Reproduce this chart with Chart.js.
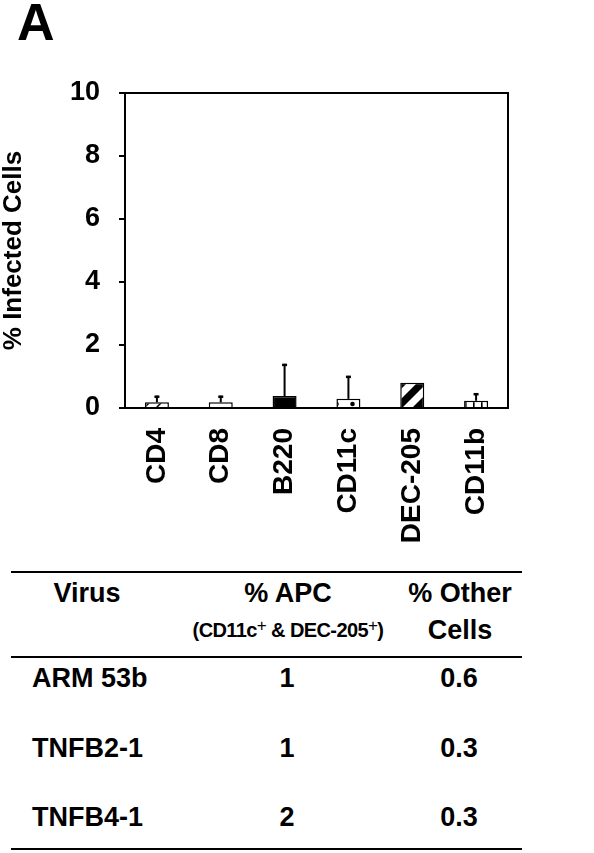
<!DOCTYPE html>
<html>
<head>
<meta charset="utf-8">
<script src="https://cdn.jsdelivr.net/npm/chart.js@4/dist/chart.umd.min.js"></script>
<style>
  html, body { margin: 0; padding: 0; background: #fff; }
  body { width: 594px; height: 853px; position: relative; overflow: hidden;
         font-family: "Liberation Sans", Arial, sans-serif; color: #000; }
  #chart { position: absolute; left: 0; top: 0; }
  .t { position: absolute; font-weight: bold; font-size: 27px; line-height: 27px; white-space: nowrap; }
  .c { transform: translateX(-50%); }
  .rule { position: absolute; left: 11px; width: 511px; height: 2px; background: #000; }
  .panel { position: absolute; left: 17px; top: 0; font-size: 52px; line-height: 44px; font-weight: bold; }
  .sub { font-size: 20px; line-height: 20px; letter-spacing: -0.6px; }
  .sub sup { font-size: 17px; line-height: 0; vertical-align: 6px; font-weight: normal; }
</style>
</head>
<body>
<div class="panel">A</div>
<canvas id="chart" width="594" height="550"></canvas>

<div class="rule" style="top:571px"></div>
<div class="t c" style="left:87px; top:580px">Virus</div>
<div class="t c" style="left:288px; top:580px">% APC</div>
<div class="t c sub" style="left:288px; top:620px">(CD11c<sup>+</sup> &amp; DEC-205<sup>+</sup>)</div>
<div class="t c" style="left:460px; top:580px">% Other</div>
<div class="t c" style="left:460px; top:617px">Cells</div>
<div class="rule" style="top:656px"></div>
<div id="rows"></div>
<div class="rule" style="top:848px"></div>

<script>
// bar chart values (% infected cells)
const markers = ['CD4', 'CD8', 'B220', 'CD11c', 'DEC-205', 'CD11b'];
const infected = [0.18, 0.18, 0.38, 0.29, 0.8, 0.23];
const infectedErr = [0.21, 0.21, 1.02, 0.73, 0, 0.24];
const yTicks = [0, 2, 4, 6, 8, 10];

// table below the chart
const viruses = ['ARM 53b', 'TNFB2-1', 'TNFB4-1'];
const apcPct = ['1', '1', '2'];
const otherPct = ['0.6', '0.3', '0.3'];

const rowY = [678, 748, 817];
const rows = document.getElementById('rows');
viruses.forEach((v, i) => {
    const top = rowY[i] - 13;
    rows.insertAdjacentHTML('beforeend',
        `<div class="t" style="left:32px; top:${top}px">${v}</div>` +
        `<div class="t c" style="left:287px; top:${top}px">${apcPct[i]}</div>` +
        `<div class="t c" style="left:459px; top:${top}px">${otherPct[i]}</div>`);
});

// fill patterns for the bars
const patCtx = document.createElement('canvas').getContext('2d');
function makePattern(w, h, draw) {
    const c = document.createElement('canvas');
    c.width = w; c.height = h;
    const g = c.getContext('2d');
    g.fillStyle = '#fff';
    g.fillRect(0, 0, w, h);
    g.strokeStyle = '#000';
    g.fillStyle = '#000';
    draw(g, w, h);
    return patCtx.createPattern(c, 'repeat');
}
const hatch = makePattern(12, 12, (g) => {
    g.lineWidth = 1.5;
    g.beginPath();
    g.moveTo(0, 12); g.lineTo(12, 0);
    g.moveTo(-6, 6); g.lineTo(6, -6);
    g.moveTo(6, 18); g.lineTo(18, 6);
    g.stroke();
});
const dots = makePattern(16, 8, (g) => {
    g.beginPath(); g.arc(0.5, 4, 2.3, 0, Math.PI * 2); g.fill();
    g.beginPath(); g.arc(16.5, 4, 2.3, 0, Math.PI * 2); g.fill();
});
const bigStripes = makePattern(20, 20, (g) => {
    g.beginPath();
    g.moveTo(0, 0); g.lineTo(10, 0); g.lineTo(0, 10); g.closePath();
    g.moveTo(20, 0); g.lineTo(20, 10); g.lineTo(10, 20); g.lineTo(0, 20); g.closePath();
    g.fill();
});
const vlines = makePattern(8, 8, (g) => {
    g.fillRect(1, 0, 1.6, 8);
});
const fills = [hatch, '#fff', '#000', dots, bigStripes, vlines];

const errorBars = {
    id: 'errorBars',
    afterDatasetsDraw(chart) {
        const {ctx, scales: {y}} = chart;
        const meta = chart.getDatasetMeta(0);
        ctx.save();
        ctx.strokeStyle = '#000';
        meta.data.forEach((bar, i) => {
            const e = infectedErr[i];
            if (!e) return;
            const yTop = y.getPixelForValue(infected[i] + e);
            ctx.lineWidth = 2;
            ctx.beginPath();
            ctx.moveTo(bar.x, bar.y);
            ctx.lineTo(bar.x, yTop);
            ctx.stroke();
            ctx.lineWidth = 2.5;
            ctx.beginPath();
            ctx.moveTo(bar.x - 2.5, yTop + 1);
            ctx.lineTo(bar.x + 2.5, yTop + 1);
            ctx.stroke();
        });
        ctx.restore();
    }
};

const frame = {
    id: 'frame',
    afterDraw(chart) {
        const {ctx, chartArea: a} = chart;
        ctx.save();
        ctx.strokeStyle = '#000';
        ctx.lineWidth = 2;
        ctx.beginPath();
        ctx.moveTo(a.left, a.top);
        ctx.lineTo(a.right, a.top);
        ctx.lineTo(a.right, a.bottom);
        ctx.stroke();
        ctx.restore();
    }
};

Chart.defaults.font.family = '"Liberation Sans", Arial, sans-serif';
Chart.defaults.color = '#000';

new Chart(document.getElementById('chart'), {
    type: 'bar',
    data: {
        labels: markers,
        datasets: [{
            data: infected,
            backgroundColor: fills,
            borderColor: '#000',
            borderWidth: 1.5,
            barPercentage: 0.376,
            categoryPercentage: 1
        }]
    },
    options: {
        responsive: false,
        animation: false,
        events: [],
        layout: {padding: {top: 93, right: 86, left: 0, bottom: 0}},
        plugins: {legend: {display: false}, tooltip: {enabled: false}},
        scales: {
            x: {
                grid: {display: false, drawTicks: false},
                border: {color: '#000', width: 2},
                ticks: {
                    minRotation: 90, maxRotation: 90, padding: 20,
                    font: {size: 28, weight: 'bold'}
                },
                afterFit(scale) { scale.height = 142; }
            },
            y: {
                min: 0, max: 10,
                afterBuildTicks(scale) { scale.ticks = yTicks.map(v => ({value: v})); },
                grid: {drawOnChartArea: false, drawTicks: true, tickLength: 6, color: '#000', lineWidth: 2},
                border: {color: '#000', width: 2},
                ticks: {padding: 19, font: {size: 27, weight: 'bold'}},
                title: {
                    display: true, text: '% Infected Cells',
                    font: {size: 26, weight: 'bold', lineHeight: 1.1},
                    padding: {top: 0, bottom: 0}
                },
                afterFit(scale) { scale.width = 125; }
            }
        }
    },
    plugins: [errorBars, frame]
});
</script>
</body>
</html>
